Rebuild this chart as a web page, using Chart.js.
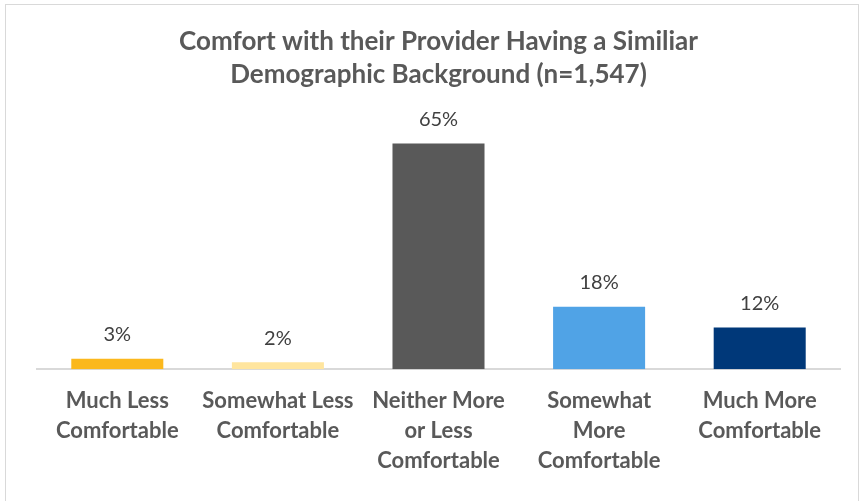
<!DOCTYPE html>
<html>
<head>
<meta charset="utf-8">
<script src="https://cdn.jsdelivr.net/npm/chart.js@4"></script>
<style>
  body { margin: 0; background: #fff; }
  #frame { position: absolute; left: 5px; top: 4px; width: 852px; height: 520px; border: 1px solid #d9d9d9; pointer-events: none; }
  #wrap { position: absolute; left: 0; top: 0; width: 861px; height: 501px; }
</style>
</head>
<body>
<div id="wrap"><canvas id="chart"></canvas></div>
<div id="frame"></div>
<script>
// Chart data
const categories = [
    ['Much Less', 'Comfortable'],
    ['Somewhat Less', 'Comfortable'],
    ['Neither More', 'or Less', 'Comfortable'],
    ['Somewhat', 'More', 'Comfortable'],
    ['Much More', 'Comfortable']
];
const percentages = [3, 2, 65, 18, 12];
const barColors = ['#FBB81D', '#FFE59E', '#595959', '#50A3E6', '#003879'];
const titleLines = ['Comfort with their Provider Having a Similiar', 'Demographic Background (n=1,547)'];

// draw the % labels above each bar
const barLabels = {
    id: 'barLabels',
    afterDatasetsDraw(chart) {
        const ctx = chart.ctx;
        const meta = chart.getDatasetMeta(0);
        ctx.save();
        ctx.font = '20px Lato';
        ctx.fillStyle = '#404040';
        ctx.textAlign = 'center';
        ctx.textBaseline = 'middle';
        meta.data.forEach((bar, i) => {
            ctx.fillText(percentages[i] + '%', bar.x, bar.y - 24);
        });
        ctx.restore();
    }
};

new Chart(document.getElementById('chart'), {
    type: 'bar',
    data: {
        labels: categories,
        datasets: [{
            data: percentages,
            backgroundColor: barColors,
            barPercentage: 0.573,
            categoryPercentage: 1
        }]
    },
    options: {
        responsive: true,
        maintainAspectRatio: false,
        animation: false,
        layout: {
            padding: { left: 37, right: 21, bottom: 16 }
        },
        plugins: {
            legend: { display: false },
            tooltip: { enabled: false },
            title: {
                display: true,
                text: titleLines,
                color: '#595959',
                font: { family: 'Lato', size: 26, weight: 'bold', lineHeight: 1.27 },
                padding: { top: 25, bottom: 35 }
            }
        },
        scales: {
            x: {
                grid: { display: false },
                border: { color: '#d9d9d9', width: 2 },
                ticks: {
                    color: '#595959',
                    font: { family: 'Lato', size: 22, weight: 'bold', lineHeight: 1.36 },
                    maxRotation: 0,
                    autoSkip: false,
                    padding: 9
                }
            },
            y: {
                display: false,
                min: 0,
                max: 70
            }
        }
    },
    plugins: [barLabels]
});
</script>
</body>
</html>
